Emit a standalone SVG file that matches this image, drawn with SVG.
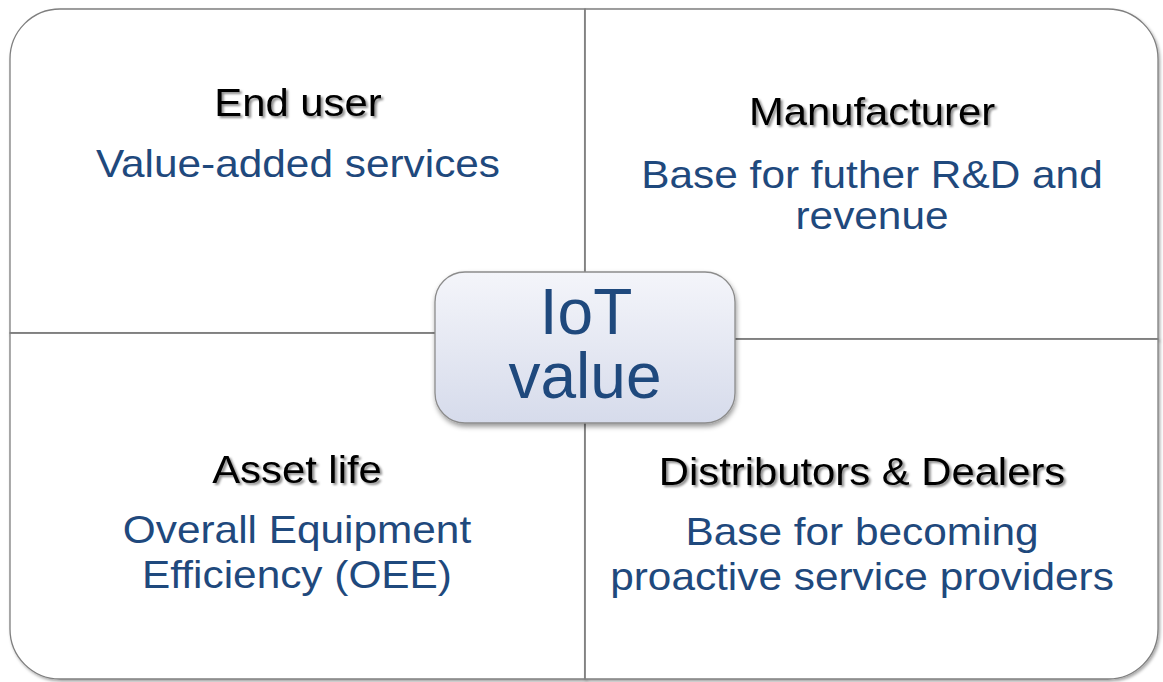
<svg xmlns="http://www.w3.org/2000/svg" width="1163" height="682" viewBox="0 0 1163 682">
  <defs>
    <linearGradient id="hubFill" x1="0" y1="0" x2="0" y2="1">
      <stop offset="0" stop-color="#f4f5fa"/>
      <stop offset="1" stop-color="#d6dbeb"/>
    </linearGradient>
    <filter id="panelShadow" x="-5%" y="-5%" width="110%" height="115%">
      <feDropShadow dx="1.5" dy="2" stdDeviation="1.5" flood-color="#000" flood-opacity="0.35"/>
    </filter>
    <filter id="hubShadow" x="-10%" y="-10%" width="120%" height="130%">
      <feDropShadow dx="1" dy="3" stdDeviation="2.5" flood-color="#000" flood-opacity="0.4"/>
    </filter>
    <filter id="titleShadow" x="-5%" y="-20%" width="115%" height="150%">
      <feDropShadow dx="2" dy="2" stdDeviation="1.2" flood-color="#000" flood-opacity="0.45"/>
    </filter>
    <style>
      .panel { fill: #ffffff; stroke: #7f7f7f; stroke-width: 1.3; }
      .title { font-family: "Liberation Sans", Arial, sans-serif; font-size: 38px; fill: #000; text-anchor: middle; filter: url(#titleShadow); }
      .body { font-family: "Liberation Sans", Arial, sans-serif; font-size: 38.5px; fill: #1f497d; text-anchor: middle; }
      .hubText { font-family: "Liberation Sans", Arial, sans-serif; font-size: 64px; fill: #1f497d; text-anchor: middle; }
    </style>
  </defs>

  <rect width="1163" height="682" fill="#ffffff"/>

  <!-- top-left quadrant -->
  <g id="end-user">
    <path class="panel" filter="url(#panelShadow)" d="M10,59 A50,50 0 0 1 60,9 H585 V333 H10 Z"/>
    <g transform="translate(298,0) scale(1.1,1)">
      <text class="title" x="0" y="116">End user</text>
      <text class="body" x="0" y="177">Value-added services</text>
    </g>
  </g>

  <!-- top-right quadrant -->
  <g id="manufacturer">
    <path class="panel" filter="url(#panelShadow)" d="M585,9 H1108 A50,50 0 0 1 1158,59 V339 H585 Z"/>
    <g transform="translate(872,0) scale(1.1,1)">
      <text class="title" x="0" y="125">Manufacturer</text>
      <text class="body" x="0" y="188">Base for futher R&amp;D and</text>
      <text class="body" x="0" y="229">revenue</text>
    </g>
  </g>

  <!-- bottom-left quadrant -->
  <g id="asset-life">
    <path class="panel" filter="url(#panelShadow)" d="M10,333 H585 V679 H60 A50,50 0 0 1 10,629 Z"/>
    <g transform="translate(297,0) scale(1.1,1)">
      <text class="title" x="0" y="483">Asset life</text>
      <text class="body" x="0" y="543">Overall Equipment</text>
      <text class="body" x="0" y="588">Efficiency (OEE)</text>
    </g>
  </g>

  <!-- bottom-right quadrant -->
  <g id="distributors-dealers">
    <path class="panel" filter="url(#panelShadow)" d="M585,339 H1158 V629 A50,50 0 0 1 1108,679 H585 Z"/>
    <g transform="translate(862,0) scale(1.1,1)">
      <text class="title" x="0" y="485">Distributors &amp; Dealers</text>
      <text class="body" x="0" y="545">Base for becoming</text>
      <text class="body" x="0" y="590">proactive service providers</text>
    </g>
  </g>

  <!-- quadrant dividers -->
  <g id="connectors" stroke="#7f7f7f" stroke-width="1.3" fill="none">
    <line x1="585" y1="9" x2="585" y2="679"/>
    <line x1="10" y1="333" x2="585" y2="333"/>
    <line x1="585" y1="339" x2="1158" y2="339"/>
  </g>

  <!-- central hub -->
  <g id="iot-value">
    <rect x="435" y="272" width="300" height="151" rx="30" ry="30" fill="url(#hubFill)" stroke="#8c8c8c" stroke-width="1.3" filter="url(#hubShadow)"/>
    <text class="hubText" x="586" y="334">IoT</text>
    <text class="hubText" x="585" y="398">value</text>
  </g>
</svg>
